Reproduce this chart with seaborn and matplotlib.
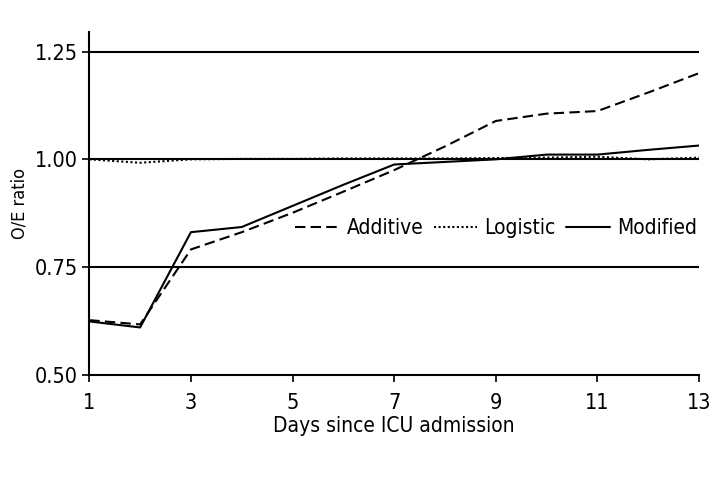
import pandas as pd
import matplotlib
matplotlib.use("Agg")
import matplotlib.pyplot as plt
import seaborn as sns

# data
days = [1, 2, 3, 4, 5, 6, 7, 8, 9, 10, 11, 12, 13]
additive = [0.627, 0.617, 0.791, 0.831, 0.876, 0.925, 0.975, 1.030, 1.089, 1.106, 1.112, 1.155, 1.200]
logistic = [1.000, 0.992, 1.000, 1.001, 1.001, 1.002, 1.002, 1.002, 1.003, 1.004, 1.006, 1.000, 1.004]
modified = [0.624, 0.610, 0.831, 0.843, 0.892, 0.941, 0.988, 0.994, 1.000, 1.011, 1.011, 1.022, 1.032]
series_names = ["Additive", "Logistic", "Modified"]
grid_levels = [0.75, 1.00, 1.25]
y_ticks = [0.50, 0.75, 1.00, 1.25]
x_ticks = [1, 3, 5, 7, 9, 11, 13]

df = pd.DataFrame({
    "day": days * 3,
    "ratio": additive + logistic + modified,
    "model": [series_names[0]] * len(days) + [series_names[1]] * len(days) + [series_names[2]] * len(days),
})

sns.set_theme(style="ticks")
plt.rcParams["font.family"] = ["DejaVu Sans"]
plt.rcParams["font.stretch"] = "condensed"
plt.rcParams["text.color"] = "black"
plt.rcParams["axes.labelcolor"] = "black"

fig = plt.figure(figsize=(7.2, 4.8), dpi=100)
ax = fig.add_axes([0.124, 0.219, 0.847, 0.714])

# horizontal reference lines
for g in grid_levels:
    ax.axhline(g, color="black", lw=1.5, zorder=1)

sns.lineplot(data=df, x="day", y="ratio", style="model",
             dashes={"Additive": (5, 2.5), "Logistic": (1, 1.2), "Modified": ""},
             color="black", lw=1.5, ax=ax, zorder=3)

ax.set_xlim(1, 13)
ax.set_ylim(0.5, 1.295)
ax.set_xticks(x_ticks)
ax.set_yticks(y_ticks)
ax.set_yticklabels([f"{v:.2f}" for v in y_ticks])
ax.tick_params(axis="both", labelsize=15.5, direction="out", length=5, width=1.2, colors="black")
ax.tick_params(axis="x", pad=8)
ax.set_xlabel("Days since ICU admission", fontsize=15, labelpad=2)
ax.set_ylabel("O/E ratio", fontsize=13)
sns.despine(ax=ax)
for s in ["left", "bottom"]:
    ax.spines[s].set_linewidth(1.5)
    ax.spines[s].set_color("black")

ax.legend(loc="center right", bbox_to_anchor=(0.997, 0.428), ncol=3, frameon=False,
          fontsize=15, handlelength=2.1, handletextpad=0.35, columnspacing=0.5,
          borderaxespad=0, borderpad=0)

fig.savefig("out.png", dpi=100)
